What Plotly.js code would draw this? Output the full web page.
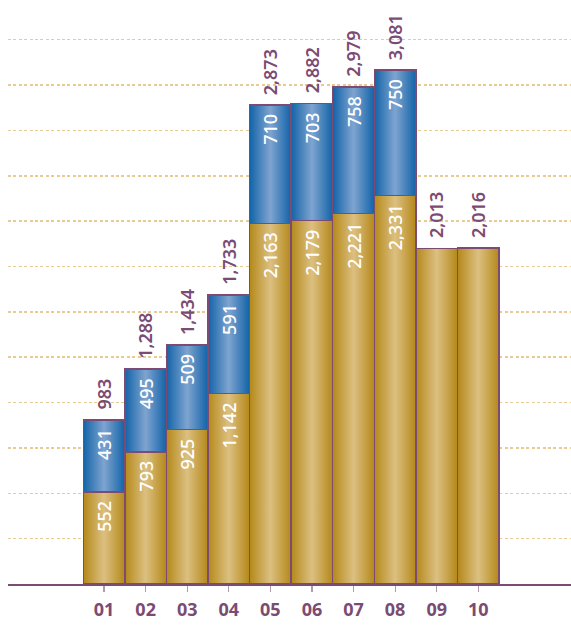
<!DOCTYPE html>
<html>
<head>
<meta charset="utf-8">
<script src="https://cdn.plot.ly/plotly-3.0.1.min.js"></script>
<style>html,body{margin:0;padding:0;background:#fff;}#chart{width:571px;height:627px;}</style>
</head>
<body>
<div id="chart"></div>
<script>
const categories = ["01","02","03","04","05","06","07","08","09","10"];
const baseValues = [552, 793, 925, 1142, 2163, 2179, 2221, 2331, 2013, 2016];
const topValues = [431, 495, 509, 591, 710, 703, 758, 750, null, null];
const totals = [983, 1288, 1434, 1733, 2873, 2882, 2979, 3081, 2013, 2016];

const purple = "#7b4b73";
const fmt = v => v.toLocaleString("en-US");
const fontFam = "Noto Sans, Open Sans, sans-serif";
const pad = "\u2009\u2009"; // small gap from the top of each segment

// inside labels only where a blue segment exists (as in the original)
const baseText = baseValues.map((v, i) => topValues[i] == null ? "" : fmt(v) + pad);
const topText = topValues.map(v => v == null ? "" : fmt(v) + pad);

const traces = [
  {
    type: "bar", x: categories, y: baseValues,
    text: baseText, textposition: "inside", insidetextanchor: "end",
    textangle: -90, constraintext: "none",
    insidetextfont: {color: "#ffffff", size: 18, family: fontFam, weight: 500},
    marker: {color: "#c9a552", line: {color: purple, width: 1.5}},
    hoverinfo: "none"
  },
  {
    type: "bar", x: categories, y: topValues,
    text: topText, textposition: "inside", insidetextanchor: "end",
    textangle: -90, constraintext: "none",
    insidetextfont: {color: "#ffffff", size: 18, family: fontFam, weight: 500},
    marker: {color: "#4a85c0", line: {color: purple, width: 1.5}},
    hoverinfo: "none"
  }
];

const annotations = categories.map((c, i) => ({
  x: i, y: totals[i], xref: "x", yref: "y",
  text: fmt(totals[i]), textangle: -90, showarrow: false,
  yanchor: "bottom", xanchor: "center", yshift: 8,
  font: {color: purple, size: 18, family: fontFam, weight: 600}
}));

const layout = {
  width: 571, height: 627,
  margin: {l: 8, r: 0, t: 17.3, b: 43},
  paper_bgcolor: "#ffffff", plot_bgcolor: "#ffffff",
  barmode: "stack", bargap: 0,
  showlegend: false,
  xaxis: {
    type: "category", range: [-2.31, 11.23],
    showgrid: false, showline: true, linecolor: purple, linewidth: 1.5,
    ticks: "outside", ticklen: 6, tickcolor: "#b49ab0", tickwidth: 1.2,
    ticklabelstandoff: 3,
    tickfont: {color: purple, size: 18, family: fontFam, weight: 700}
  },
  yaxis: {
    range: [0, 3400], dtick: 272, tick0: 0,
    showticklabels: false, ticks: "",
    showgrid: true, gridcolor: "#e6cb92", gridwidth: 1.5, griddash: "3px,2.4px",
    zeroline: false, showline: false
  },
  annotations: annotations
};

Plotly.newPlot("chart", traces, layout, {displayModeBar: false, staticPlot: true}).then(gd => {
  const svg = gd.querySelector("svg.main-svg");
  const ns = "http://www.w3.org/2000/svg";
  const defs = document.createElementNS(ns, "defs");
  function grad(id, edge, mid) {
    const g = document.createElementNS(ns, "linearGradient");
    g.setAttribute("id", id);
    g.setAttribute("x1", "0"); g.setAttribute("x2", "1");
    g.setAttribute("y1", "0"); g.setAttribute("y2", "0");
    [[0, edge], [0.5, mid], [1, edge]].forEach(([o, c]) => {
      const s = document.createElementNS(ns, "stop");
      s.setAttribute("offset", o); s.setAttribute("stop-color", c);
      g.appendChild(s);
    });
    defs.appendChild(g);
  }
  grad("goldGrad", "#b48819", "#dcc081");
  grad("blueGrad", "#1263a8", "#7fa4d0");
  svg.insertBefore(defs, svg.firstChild);
  const tr = gd.querySelectorAll(".barlayer .trace");
  const ids = ["goldGrad", "blueGrad"];
  tr.forEach((t, i) => {
    t.querySelectorAll("path").forEach(p => { p.style.fill = "url(#" + ids[i] + ")"; });
  });
});
</script>
</body>
</html>
